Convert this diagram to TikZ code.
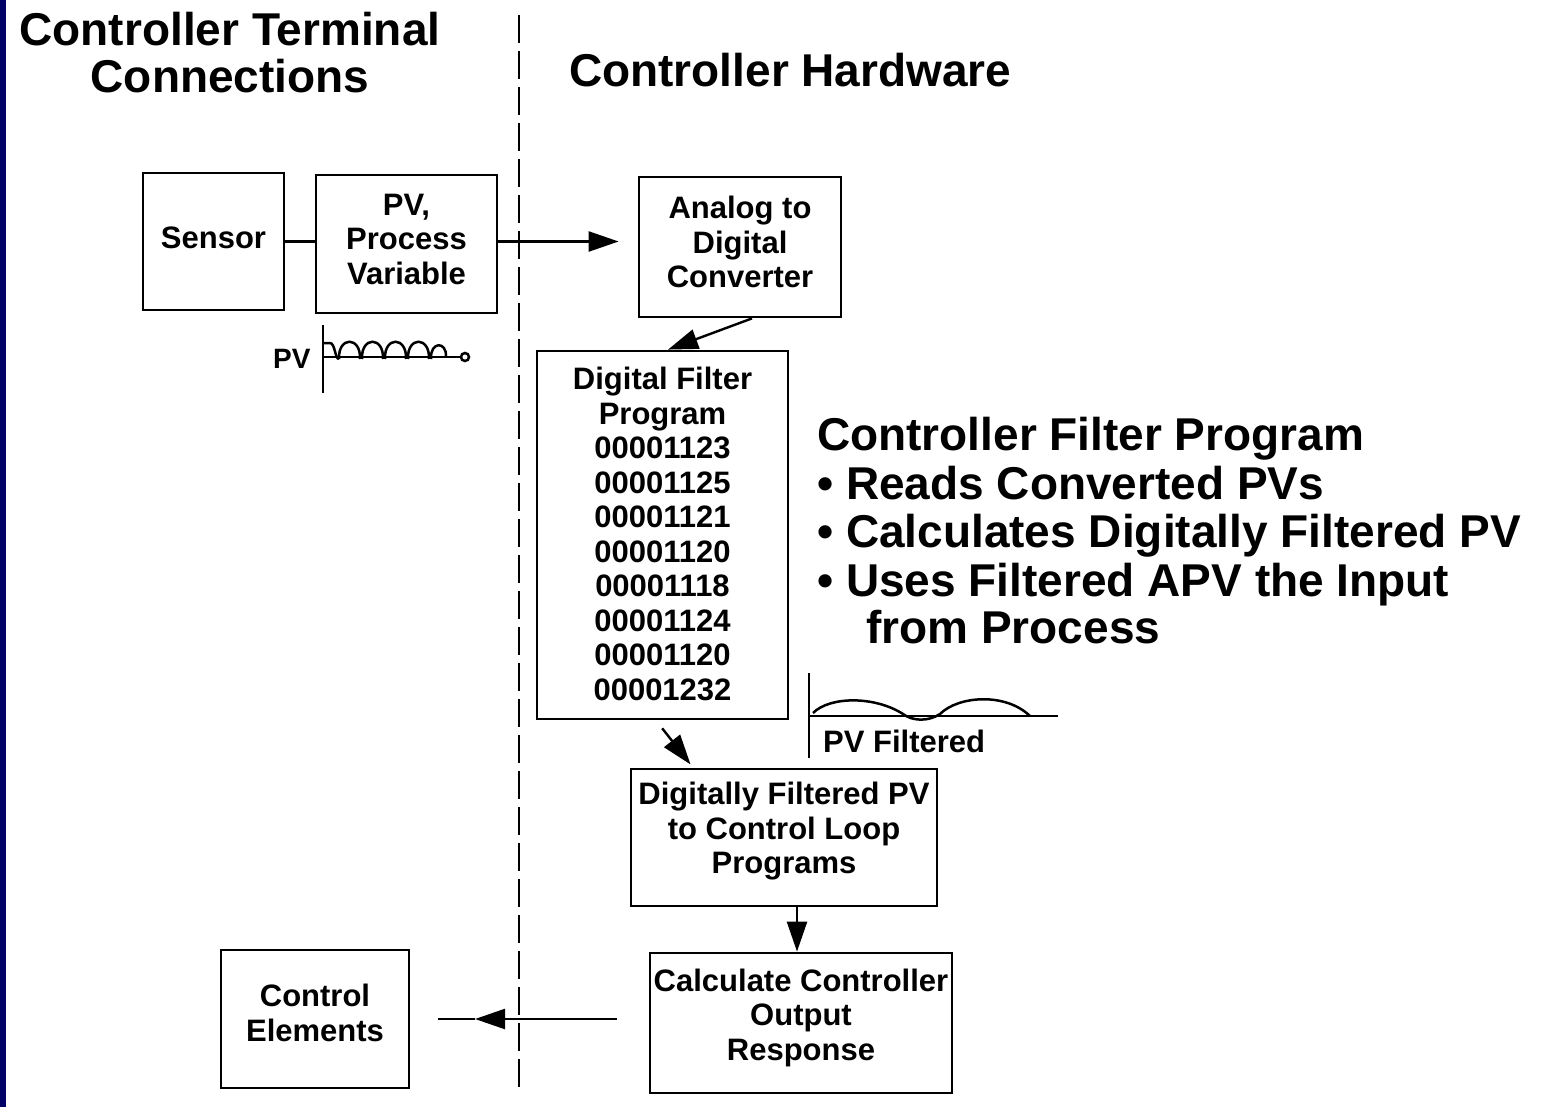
\documentclass[tikz,border=0pt]{standalone}
\usepackage{fontspec}
\setmainfont{Liberation Sans}
\usetikzlibrary{arrows.meta,calc}
\definecolor{stripblue}{RGB}{0,0,102}
\begin{document}
\begin{tikzpicture}[x=1pt,y=-1pt,
  box/.style={draw,line width=2.8pt,inner sep=0pt,align=center,
    font=\bfseries\fontsize{31}{34.5}\selectfont},
  conn/.style={line width=2.4pt},
  arr/.style={conn,-{Triangle[length=30pt,width=20pt]}},
  head/.style={inner sep=0pt,font=\bfseries\fontsize{46}{47}\selectfont},
  bul/.style={inner sep=0pt,anchor=base west,font=\bfseries\fontsize{46}{48}\selectfont},
  lab/.style={inner sep=0pt,anchor=base west,font=\bfseries\fontsize{31}{34}\selectfont},
  wave/.style={line width=2.5pt}]
\useasboundingbox (0,0) rectangle (1541,1107);
\fill[stripblue] (0,0) rectangle (6,1107);

% headings
\node[head,align=center] (hTerm) at (230,52.5) {Controller Terminal\\Connections};
\node[head,anchor=base west] (hHard) at (569,87) {Controller Hardware};

% divider
\coordinate (divTop) at (519,15);
\coordinate (divBot) at (519,1090);
\draw[line width=2.6pt,dash pattern=on 28pt off 8pt] (divTop) -- (divBot);

% boxes
\node[box,minimum width=141pt,minimum height=137pt,text depth=8pt] (sensor) at (213.5,241.5) {Sensor};
\node[box,minimum width=181pt,minimum height=138pt,text depth=10pt] (pv) at (406.5,244) {PV,\\Process\\Variable};
\node[box,minimum width=202pt,minimum height=140pt,text depth=10pt] (adc) at (740,247) {Analog to\\Digital\\Converter};
\node[box,minimum width=251pt,minimum height=368pt,text depth=2pt] (df) at (662.5,535) {Digital Filter\\Program\\00001123\\00001125\\00001121\\00001120\\00001118\\00001124\\00001120\\00001232};
\node[box,minimum width=306pt,minimum height=137pt,text depth=18.5pt] (dfpv) at (784,837.5) {Digitally Filtered PV\\to Control Loop\\Programs};
\node[box,minimum width=302pt,minimum height=140pt,text depth=16.5pt] (calc) at (801,1023) {Calculate Controller\\Output\\Response};
\node[box,minimum width=188pt,minimum height=138pt,text depth=12pt] (ce) at (315,1019) {Control\\Elements};

% connectors
\draw[conn] (sensor.east) -- (sensor.east -| pv.west);
\draw[arr,shorten >=19pt] (sensor.east -| pv.east) -- (sensor.east -| adc.west);
\draw[arr] ([xshift=12pt]adc.south) -- ([xshift=5.5pt]df.north);
\draw[arr,shorten <=10pt,shorten >=4pt] ([xshift=-6.5pt]df.south) -- ([xshift=-91pt]dfpv.north);
\draw[arr] ([xshift=13pt]dfpv.south) -- ([xshift=13pt]dfpv.south |- calc.north);
\coordinate (outTip) at (475,1019);
\draw[arr] ([xshift=-32pt]calc.west |- ce.east) -- (outTip);
\draw[conn] (outTip) -- ([xshift=28pt]ce.east);

% controller filter program text
\node[bul] (cfp1) at (817,450) {Controller Filter Program};
\node[bul] (cfp2) at (817,499) {\textbullet\ Reads Converted PVs};
\node[bul] (cfp3) at (817,547) {\textbullet\ Calculates Digitally Filtered PV};
\node[bul] (cfp4) at (817,596) {\textbullet\ Uses Filtered APV the Input};
\node[bul] (cfp5) at (866,643) {from Process};

% raw PV waveform
\node[lab,font=\bfseries\fontsize{28}{30}\selectfont] (pvlab) at (273,368) {PV};
\draw[wave] (323,325) -- (323,393);
\draw[wave] (323,357) -- (461,357);
\draw[wave] (323,343) -- (330,343) .. controls (335,343) and (335,359) .. (339,359);
\foreach \x in {339,362,385,408}{
  \draw[wave] (\x,359) .. controls (\x-1,336) and (\x+22,336) .. (\x+21,359);
}
\draw[wave] (431,359) .. controls (430,341) and (447,341) .. (446,357);
\draw[wave] (465,357) circle (4pt);

% filtered PV waveform
\node[lab] (pvflab) at (823,752) {PV Filtered};
\draw[wave] (809,673) -- (809,758);
\draw[wave] (809,716) -- (1058,716);
\draw[wave] (813,713) .. controls (830,696) and (875,696) .. (903,714)
  .. controls (912,721) and (928,722) .. (940,714)
  .. controls (958,696) and (1005,692) .. (1030,716);
\end{tikzpicture}
\end{document}
